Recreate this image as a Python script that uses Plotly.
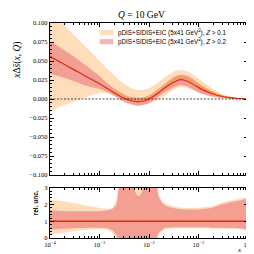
import plotly.graph_objects as go

# ---------------- data ----------------
LX_TOP = [-4, -3.75, -3.5, -3.25, -3, -2.75, -2.5, -2.375, -2.25, -2.125, -2, -1.875,
          -1.75, -1.625, -1.5, -1.375, -1.25, -1.125, -1, -0.75, -0.5, -0.25, 0]

# Z > 0.2 (red)
Z2_CENTRAL = [0.056, 0.047, 0.038, 0.029, 0.020, 0.010, 0.001, -0.002, -0.0035, -0.003, 0.0, 0.005,
              0.011, 0.017, 0.022, 0.0255, 0.024, 0.020, 0.015, 0.0075, 0.003, 0.001, 0.0]
Z2_UPPER = [0.076, 0.066, 0.055, 0.043, 0.030, 0.016, 0.006, 0.003, 0.002, 0.002, 0.005, 0.010,
            0.016, 0.023, 0.029, 0.032, 0.031, 0.027, 0.021, 0.011, 0.0045, 0.0015, 0.0]
Z2_LOWER = [0.033, 0.029, 0.023, 0.017, 0.013, 0.006, -0.004, -0.007, -0.009, -0.008, -0.005, 0.000,
            0.006, 0.011, 0.015, 0.018, 0.017, 0.013, 0.009, 0.004, 0.0015, 0.0005, 0.0]

# Z > 0.1 (orange)
Z1_CENTRAL = [0.056, 0.047, 0.038, 0.029, 0.020, 0.011, 0.003, 0.000, -0.001, -0.001, 0.002, 0.007,
              0.013, 0.019, 0.025, 0.028, 0.027, 0.023, 0.018, 0.009, 0.0035, 0.001, 0.0]
Z1_UPPER = [0.118, 0.100, 0.083, 0.067, 0.050, 0.034, 0.020, 0.015, 0.012, 0.012, 0.014, 0.019,
            0.025, 0.031, 0.036, 0.038, 0.037, 0.033, 0.027, 0.015, 0.006, 0.002, 0.0]
Z1_LOWER = [-0.016, -0.009, -0.003, 0.003, 0.008, 0.006, -0.003, -0.006, -0.008, -0.008, -0.006, -0.003,
            0.001, 0.007, 0.012, 0.015, 0.015, 0.012, 0.008, 0.003, 0.0008, 0.0002, 0.0]

# relative uncertainty panel
LX_REL = [-4.0, -3.74, -3.45, -3.19, -2.86, -2.74, -2.66, -2.58, -2.46, -2.33, -2.27, -2.21, -2.15,
          -2.09, -1.97, -1.87, -1.81, -1.73, -1.67, -1.42, -1.08, -0.75, -0.55, -0.35, -0.10, 0.0]
Z2_REL_UP = [1.66, 1.62, 1.6, 1.6, 1.65, 1.75, 2.0, 3.6, 4.0, 3.4, 2.7, 2.5, 2.7,
             3.4, 4.0, 3.8, 2.5, 2.1, 1.94, 1.75, 1.7, 1.8, 2.0, 2.15, 2.3, 2.4]
Z2_REL_LO = [0.5, 0.55, 0.6, 0.62, 0.6, 0.45, 0.2, -0.5, -1, -1, -1, -1, -1,
             -1, -1, -0.5, 0.3, 0.5, 0.6, 0.64, 0.64, 0.62, 0.62, 0.6, 0.56, 0.52]
Z1_REL_UP = [2.3, 2.2, 2.05, 1.9, 1.75, 1.8, 2.3, 3.8, 4, 4, 4, 4, 4,
             4, 4, 4, 2.7, 2.2, 2.05, 1.85, 1.8, 1.9, 2.1, 2.25, 2.4, 2.45]
Z1_REL_LO = [0.2, 0.3, 0.45, 0.5, 0.5, 0.3, 0.0, -1, -1, -1, -1, -1, -1,
             -1, -1, -1, 0.15, 0.4, 0.52, 0.58, 0.58, 0.56, 0.56, 0.55, 0.5, 0.45]
REL_X = [1e-4, 1.0]
REL_CENTRAL = [1, 1]

Y_TICKS = [-0.1, -0.075, -0.05, -0.025, 0.0, 0.025, 0.05, 0.075, 0.1]
REL_TICKS = [0, 1, 2, 3]
X_TICKS = [1e-4, 1e-3, 1e-2, 1e-1, 1]
X_TICKTEXT = ["10<sup>\u22124</sup>", "10<sup>\u22123</sup>", "10<sup>\u22122</sup>",
              "10<sup>\u22121</sup>", "10<sup>0</sup>"]
LEGEND = ["pDIS+SIDIS+EIC (5x41 GeV<sup>2</sup>), <i>Z</i> > 0.1",
          "pDIS+SIDIS+EIC (5x41 GeV<sup>2</sup>), <i>Z</i> > 0.2"]

# ---------------- styles ----------------
C_ORANGE_BAND = "rgba(252,175,90,0.42)"
C_RED_BAND = "rgba(232,75,95,0.42)"
C_ORANGE_LINE = "#f5a21a"
C_RED_LINE = "#e0262f"
SERIF = "Liberation Serif"
SANS = "Liberation Sans"

X_TOP = [10 ** v for v in LX_TOP]
X_REL = [10 ** v for v in LX_REL]

fig = go.Figure()


def band(x, up, lo, color, xa, ya, smooth):
    fig.add_trace(go.Scatter(
        x=list(x) + list(x)[::-1], y=list(up) + list(lo)[::-1],
        fill="toself", fillcolor=color, mode="lines",
        line=dict(width=0, shape="spline", smoothing=smooth),
        xaxis=xa, yaxis=ya, hoverinfo="skip", showlegend=False))


def line(x, y, color, xa, ya, w):
    fig.add_trace(go.Scatter(
        x=x, y=y, mode="lines", line=dict(color=color, width=w, shape="spline", smoothing=0.8),
        xaxis=xa, yaxis=ya, hoverinfo="skip", showlegend=False))


# top panel
band(X_TOP, Z1_UPPER, Z1_LOWER, C_ORANGE_BAND, "x", "y", 0.8)
band(X_TOP, Z2_UPPER, Z2_LOWER, C_RED_BAND, "x", "y", 0.8)
line(X_TOP, Z1_CENTRAL, C_ORANGE_LINE, "x", "y", 1.2)
line(X_TOP, Z2_CENTRAL, C_RED_LINE, "x", "y", 1.2)

# bottom panel
band(X_REL, Z1_REL_UP, Z1_REL_LO, C_ORANGE_BAND, "x2", "y2", 0.6)
band(X_REL, Z2_REL_UP, Z2_REL_LO, C_RED_BAND, "x2", "y2", 0.6)
line(REL_X, REL_CENTRAL, C_ORANGE_LINE, "x2", "y2", 1.5)
line(REL_X, REL_CENTRAL, C_RED_LINE, "x2", "y2", 1.5)

tickfont = dict(family=SERIF, size=6.5, color="black")
common_x = dict(type="log", range=[-4, 0], showline=True, linecolor="black", linewidth=1.2,
                mirror="allticks", ticks="inside", ticklen=4, tickwidth=0.8, tickcolor="black",
                tickvals=X_TICKS, ticktext=X_TICKTEXT, showgrid=False, zeroline=False,
                minor=dict(ticks="inside", ticklen=2, tickwidth=0.6, tickcolor="black", dtick="D1",
                           showgrid=False),
                tickfont=tickfont)

fig.update_layout(
    width=254, height=254,
    margin=dict(l=42, r=9, t=15, b=24),
    paper_bgcolor="white", plot_bgcolor="white",
    showlegend=False,
    xaxis=dict(common_x, anchor="y", showticklabels=False),
    xaxis2=dict(common_x, anchor="y2", showticklabels=True),
    yaxis=dict(domain=[0.293, 1], range=[-0.1, 0.1], tickvals=Y_TICKS, tickformat=".3f",
               showline=True, linecolor="black", linewidth=1.2, mirror="allticks",
               ticks="inside", ticklen=4, tickwidth=0.8, tickcolor="black",
               minor=dict(ticks="inside", ticklen=2, tickwidth=0.6, dtick=0.005, tickcolor="black",
                          showgrid=False),
               showgrid=False, zeroline=False, tickfont=tickfont, anchor="x"),
    yaxis2=dict(domain=[0, 0.2326], range=[0, 3], tickvals=REL_TICKS,
                showline=True, linecolor="black", linewidth=1.2, mirror="allticks",
                ticks="inside", ticklen=4, tickwidth=0.8, tickcolor="black",
                minor=dict(ticks="inside", ticklen=2, tickwidth=0.6, dtick=0.2, tickcolor="black",
                           showgrid=False),
                showgrid=False, zeroline=False, tickfont=tickfont, anchor="x2"),
)

# zero dashed line
fig.add_shape(type="line", xref="x domain", yref="y", x0=0, x1=1, y0=0, y1=0,
              line=dict(color="black", width=0.7, dash="2px,1.5px"), layer="above")

# manual legend
for i, (txt, col) in enumerate(zip(LEGEND, [C_ORANGE_BAND, C_RED_BAND])):
    y_top = 0.967 - i * 0.042
    fig.add_shape(type="rect", xref="paper", yref="paper", x0=0.251, x1=0.320,
                  y0=y_top - 0.024, y1=y_top, fillcolor=col, line=dict(width=0), layer="above")
    fig.add_annotation(x=0.334, y=y_top - 0.012, xref="paper", yref="paper", text=txt,
                       showarrow=False, xanchor="left", yanchor="middle",
                       font=dict(family=SANS, size=6.3, color="black"))

# title
fig.add_annotation(x=0.463, y=1.037, xref="paper", yref="paper",
                   text="<i>Q</i> = 10 GeV", showarrow=False, xanchor="center", yanchor="middle",
                   font=dict(family=SERIF, size=9.5, color="black"))
# y titles
fig.add_annotation(x=-0.163, y=0.828, xref="paper", yref="paper",
                   text="<i>x</i>\u0394<i>s\u0304</i>(<i>x</i>, <i>Q</i>)", textangle=-90,
                   showarrow=False, xanchor="center", yanchor="middle",
                   font=dict(family=SERIF, size=9.5, color="black"))
fig.add_annotation(x=-0.069, y=0.163, xref="paper", yref="paper",
                   text="<b>rel. unc.</b>", textangle=-90,
                   showarrow=False, xanchor="center", yanchor="middle",
                   font=dict(family=SERIF if False else SANS, size=6.5, color="black"))
# x title
fig.add_annotation(x=0.955, y=-0.058, xref="paper", yref="paper",
                   text="<i>x</i>", showarrow=False, xanchor="center", yanchor="middle",
                   borderpad=0, font=dict(family=SERIF, size=7, color="black"))

fig.write_html("out.html")
